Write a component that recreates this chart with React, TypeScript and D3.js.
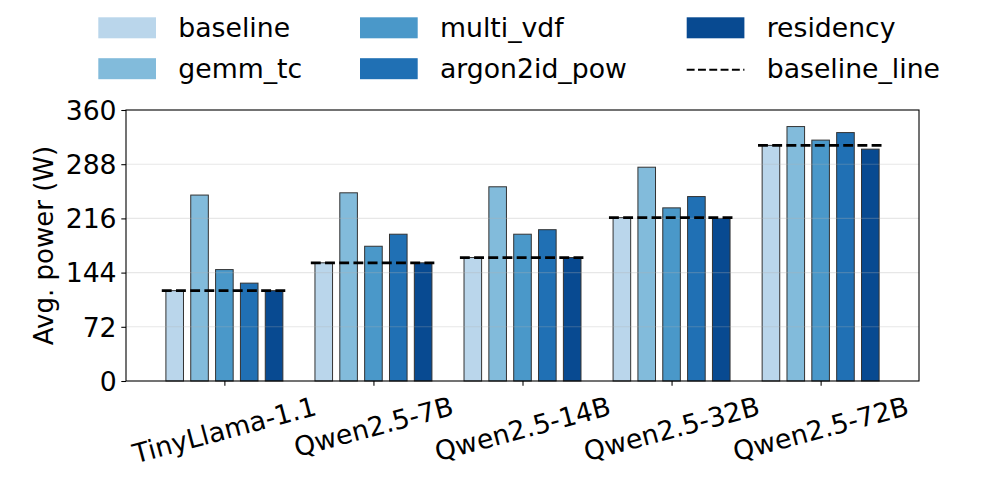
import React, { useEffect, useRef } from "react";
import * as d3 from "d3";

const categories = ["TinyLlama-1.1", "Qwen2.5-7B", "Qwen2.5-14B", "Qwen2.5-32B", "Qwen2.5-72B"];
const seriesNames = ["baseline", "gemm_tc", "multi_vdf", "argon2id_pow", "residency"];
const baseline = [120, 157, 164, 217, 313];
const gemmTc = [247, 250, 258, 284, 338];
const multiVdf = [148, 179, 195, 230, 320];
const argon2idPow = [130, 195, 201, 245, 330];
const residency = [120, 157, 164, 216, 308];
const baselineLine = [120, 157, 164, 217, 313];
const yTicks = [0, 72, 144, 216, 288, 360];

const colors = ["#bad6eb", "#82bbdb", "#4a98c9", "#2070b4", "#084a91"];
const FONT = "DejaVu Sans, sans-serif";

export default function App() {
  const svgRef = useRef<SVGSVGElement>(null);

  useEffect(() => {
    if (!svgRef.current) return;
    const svg = d3.select(svgRef.current);
    svg.selectAll("*").remove();

    const values = [baseline, gemmTc, multiVdf, argon2idPow, residency];
    const left = 126, right = 919, top = 110, bottom = 381;

    const x = d3.scaleLinear().domain([-0.66, categories.length - 1 + 0.66]).range([left, right]);
    const y = d3.scaleLinear().domain([0, 360]).range([bottom, top]);

    const step = 1 / 6;
    const barW = 0.118;
    const unit = x(1) - x(0);

    // bars
    values.forEach((vals, s) => {
      svg.append("g")
        .selectAll("rect")
        .data(vals)
        .join("rect")
        .attr("x", (_, i) => x(i + (s - 2) * step - barW / 2))
        .attr("width", barW * unit)
        .attr("y", (d) => y(d))
        .attr("height", (d) => y(0) - y(d))
        .attr("fill", colors[s])
        .attr("stroke", "#333")
        .attr("stroke-width", 1);
    });

    // grid (matplotlib draws it above bars)
    svg.append("g")
      .selectAll("line")
      .data(yTicks.slice(1, -1))
      .join("line")
      .attr("x1", left)
      .attr("x2", right)
      .attr("y1", (d) => y(d))
      .attr("y2", (d) => y(d))
      .attr("stroke", "#b0b0b0")
      .attr("stroke-opacity", 0.3)
      .attr("stroke-width", 1.07);

    // baseline dashed lines
    svg.append("g")
      .selectAll("line")
      .data(baselineLine)
      .join("line")
      .attr("x1", (_, i) => x(i - 0.42))
      .attr("x2", (_, i) => x(i + 0.42))
      .attr("y1", (d) => y(d))
      .attr("y2", (d) => y(d))
      .attr("stroke", "#000")
      .attr("stroke-width", 2.67)
      .attr("stroke-dasharray", "9.9,4.3");

    // frame
    svg.append("rect")
      .attr("x", left)
      .attr("y", top)
      .attr("width", right - left)
      .attr("height", bottom - top)
      .attr("fill", "none")
      .attr("stroke", "#000")
      .attr("stroke-width", 1.1);

    // y axis
    const yAxis = svg.append("g").attr("transform", `translate(${left},0)`)
      .call(d3.axisLeft(y).tickValues(yTicks).tickSize(4.7).tickPadding(4.7).tickFormat(d3.format("d")));
    yAxis.select(".domain").remove();
    yAxis.selectAll("line").attr("stroke", "#000").attr("stroke-width", 1.07);
    yAxis.selectAll("text")
      .style("font-family", FONT)
      .style("font-size", "26.7px")
      .attr("fill", "#000")
      .attr("dy", "0.35em");

    // x axis ticks
    const xAxis = svg.append("g").attr("transform", `translate(0,${bottom})`)
      .call(d3.axisBottom(x).tickValues(d3.range(categories.length)).tickSize(4.7).tickFormat(() => ""));
    xAxis.select(".domain").remove();
    xAxis.selectAll("line").attr("stroke", "#000").attr("stroke-width", 1.07);

    // rotated x labels, centred like matplotlib (ha=center, va=top)
    const theta = 15;
    const rad = (theta * Math.PI) / 180;
    const fs = 26.7;
    const lineH = 1.164 * fs;
    const labelTop = bottom + 4.7 + 4.7;
    categories.forEach((c, i) => {
      const g = svg.append("g");
      const t = g.append("text")
        .attr("text-anchor", "middle")
        .attr("dominant-baseline", "central")
        .style("font-family", FONT)
        .style("font-size", `${fs}px`)
        .attr("fill", "#000")
        .text(c);
      const w = (t.node() as SVGTextElement).getComputedTextLength();
      const bh = w * Math.sin(rad) + lineH * Math.cos(rad);
      g.attr("transform", `translate(${x(i)},${labelTop + bh / 2}) rotate(${-theta})`);
    });

    // y label
    svg.append("text")
      .attr("transform", `translate(44,${(top + bottom) / 2}) rotate(-90)`)
      .attr("text-anchor", "middle")
      .attr("dominant-baseline", "central")
      .style("font-family", FONT)
      .style("font-size", "26px")
      .attr("fill", "#000")
      .text("Avg. power (W)");

    // legend
    const colX = [98.3, 360, 686.7];
    const rowY = [27.8, 68.7];
    const entries = [...seriesNames, "baseline_line"];
    entries.forEach((name, k) => {
      const col = Math.floor(k / 2);
      const row = k % 2;
      const lg = svg.append("g").attr("transform", `translate(${colX[col]},${rowY[row]})`);
      if (k < 5) {
        lg.append("rect")
          .attr("x", 0)
          .attr("y", -10.5)
          .attr("width", 57.7)
          .attr("height", 21)
          .attr("fill", colors[k]);
      } else {
        lg.append("line")
          .attr("x1", 0)
          .attr("x2", 57.7)
          .attr("y1", 1)
          .attr("y2", 1)
          .attr("stroke", "#000")
          .attr("stroke-width", 2)
          .attr("stroke-dasharray", "7.9,3.4");
      }
      lg.append("text")
        .attr("x", 80)
        .attr("dy", "0.35em")
        .style("font-family", FONT)
        .style("font-size", "26.7px")
        .attr("fill", "#000")
        .text(name);
    });
  }, []);

  return (
    <svg
      ref={svgRef}
      width={996}
      height={498}
      style={{ position: "absolute", left: 0, top: 0, display: "block", background: "#fff" }}
    />
  );
}
